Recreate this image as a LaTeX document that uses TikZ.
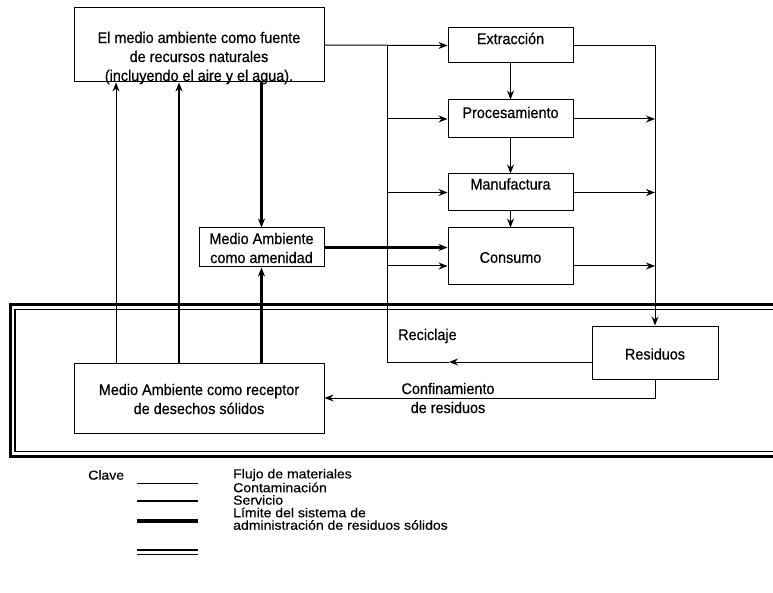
\documentclass[tikz,border=0pt]{standalone}
\usepackage{fontspec}
\setmainfont{Liberation Sans}
\newfontfamily\mainf[FakeStretch=0.93,FakeBold=0.5]{Liberation Sans}
\newfontfamily\legfont[FakeStretch=1.08,FakeBold=0.4]{Liberation Sans}
\usetikzlibrary{arrows.meta}
\tikzset{
  box/.style={draw, line width=1pt, inner sep=0pt},
  txt/.style={inner sep=0pt, align=center, font=\mainf\fontsize{15.5}{19}\selectfont},
  flow/.style={line width=1pt},
  contam/.style={line width=2.3pt},
  serv/.style={line width=3.6pt},
  tip/.style={-{Stealth[length=9pt,width=7pt]}},
  leg/.style={inner sep=0pt, anchor=west, font=\legfont\fontsize{13}{13}\selectfont},
}
\begin{document}
\begin{tikzpicture}[x=1pt,y=-1pt]
\useasboundingbox (0,0) rectangle (773,593);
% boxes
\node[box, minimum width=250pt, minimum height=74pt] (fuente) at (199,45) {};
\node[txt] (fuentet) at (199,58) {El medio ambiente como fuente\\de recursos naturales\\(incluyendo el aire y el agua).};
\node[box, minimum width=125pt, minimum height=35pt] (extr) at (510.5,45.5) {};
\node[txt] (extrt) at (510.5,38.5) {Extracción};
\node[box, minimum width=125pt, minimum height=38pt] (proc) at (510.5,119) {};
\node[txt] (proct) at (510.5,112.5) {Procesamiento};
\node[box, minimum width=125pt, minimum height=37pt] (manu) at (510.5,192.5) {};
\node[txt] (manut) at (510.5,184) {Manufactura};
\node[box, minimum width=125pt, minimum height=57pt] (cons) at (510.5,256.5) {};
\node[txt] (const) at (510.5,257.5) {Consumo};
\node[box, minimum width=126pt, minimum height=53pt] (res) at (655,352.5) {};
\node[txt] (rest) at (655,354) {Residuos};
\node[box, minimum width=125pt, minimum height=39pt] (amen) at (261.5,247.5) {};
\node[txt] (ament) at (261.5,248) {Medio Ambiente\\como amenidad};
\node[box, minimum width=250pt, minimum height=70pt] (recep) at (199,398) {};
\node[txt] (recept) at (199,399) {Medio Ambiente como receptor\\de desechos sólidos};
% labels
\node[txt, anchor=west] (recic) at (398,336) {Reciclaje};
\node[txt] (confin) at (448,398) {Confinamiento\\de residuos};
% helper coordinates
\coordinate (L) at (387,0);
\coordinate (rc) at (449,362);
% flows from source
\draw[flow, tip] (fuente.east) -- (extr.west);
\draw[flow] (L |- fuente.east) -- (L |- rc) -- (rc);
\draw[flow, tip] ([yshift=-9.5pt]res.west) -- (rc);
\draw[flow, tip] (L |- proc.west) -- (proc.west);
\draw[flow, tip] (L |- manu.west) -- (manu.west);
\draw[flow, tip] (L |- 0,266) -- ([yshift=-9.5pt]cons.west);
\draw[serv, tip] (amen.east) -- (cons.west |- amen.east);
% chain
\draw[flow, tip] (extr.south) -- (proc.north);
\draw[flow, tip] (proc.south) -- (manu.north);
\draw[flow, tip] (manu.south) -- (cons.north);
% right collector
\draw[flow, tip] (extr.east) -| (res.north);
\draw[flow, tip] (proc.east) -- (res.north |- proc.east);
\draw[flow, tip] (manu.east) -- (res.north |- manu.east);
\draw[flow, tip] ([yshift=-9.5pt]cons.east) -- (res.north |- 0,266);
% confinement
\draw[flow, tip] (res.south) |- (recep.east);
% verticals
\draw[flow, tip] ([xshift=-83pt]recep.north) -- ([xshift=-83pt]fuente.south);
\draw[contam, tip] ([xshift=-20pt]recep.north) -- ([xshift=-20pt]fuente.south);
\draw[contam, tip] (amen.south |- recep.north) -- (amen.south);
\draw[contam, tip] (fuente.south -| amen.north) -- (amen.north);
% system boundary
\draw[line width=3pt] (790,305) -- (10.5,305) -- (10.5,456.5) -- (790,456.5);
\draw[line width=1.4pt] (790,309.5) -- (15,309.5) -- (15,451.5) -- (790,451.5);
% legend
\node[leg] (clave) at (88,475) {Clave};
\node[leg] (l1) at (233,475) {Flujo de materiales};
\node[leg] (l2) at (233,487.5) {Contaminación};
\node[leg] (l3) at (233,500) {Servicio};
\node[leg] (l4) at (233,512.5) {Límite del sistema de};
\node[leg] (l5) at (233,525) {administración de residuos sólidos};
\coordinate (ka) at (137,483); \coordinate (kb) at (198,483);
\draw[flow] (ka) -- (kb);
\draw[contam] ([yshift=-18pt]ka) -- ([yshift=-18pt]kb);
\draw[serv] ([yshift=-38pt]ka) -- ([yshift=-38pt]kb);
\draw[line width=1.6pt] ([yshift=-67pt]ka) -- ([yshift=-67pt]kb);
\draw[line width=1.6pt] ([yshift=-71.5pt]ka) -- ([yshift=-71.5pt]kb);
\end{tikzpicture}
\end{document}
